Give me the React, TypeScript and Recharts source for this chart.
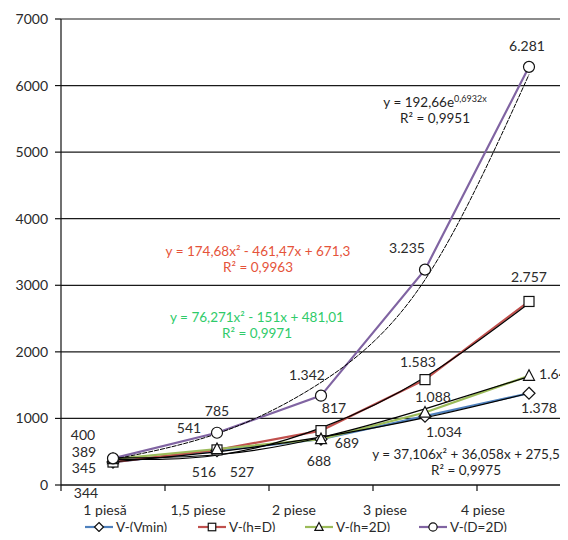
import React from 'react'
import { LineChart, Line, XAxis, YAxis, CartesianGrid, LabelList } from 'recharts'

const categories = ['1 piesă', '1,5 piese', '2 piese', '3 piese', '4 piese']
const vMin = [344, 516, 688, 1034, 1378]
const vHD = [345, 527, 817, 1583, 2757]
const vH2D = [389, 541, 689, 1088, 1640]
const vD2D = [400, 785, 1342, 3235, 6281]

// trendline values at each category
const trendMin = [349, 498, 718, 1011, 1379]
const trendHD = [385, 447, 859, 1620, 2731]
const trendH2D = [406, 454, 714, 1143, 1629]
const trendD2D = [385, 771, 1541, 3083, 6166]

const yTicks = [0, 1000, 2000, 3000, 4000, 5000, 6000, 7000]

const data = categories.map((name, i) => ({
  x: i + 1,
  name,
  vMin: vMin[i],
  vHD: vHD[i],
  vH2D: vH2D[i],
  vD2D: vD2D[i],
  tMin: trendMin[i],
  tHD: trendHD[i],
  tH2D: trendH2D[i],
  tD2D: trendD2D[i],
}))

const FONT = 'Lato, "Open Sans", sans-serif'
const TXT = '#2a2a2a'

const COLORS = {
  vMin: '#4F81BD',
  vHD: '#C0504D',
  vH2D: '#9BBB59',
  vD2D: '#8064A2',
}

// label offsets (dx, dy) from each marker
const OFFSETS: Record<string, number[][]> = {
  vMin: [[-27, 31], [-13, 21], [-2, 22], [19, 16], [10, 15]],
  vHD: [[-29, 6], [25, 22], [13, -23], [-7, -18], [0, -24]],
  vH2D: [[-29, -7], [-28, -21], [26, 4], [8, -15], [28, -2]],
  vD2D: [[-30, -23], [0, -22], [-14, -21], [-18, -22], [-2, -21]],
}

const TICK_SHIFT = [-8, -19, -27, -40, -46]

const fmt = (v: number) =>
  v >= 1000 ? `${Math.floor(v / 1000)}.${String(v % 1000).padStart(3, '0')}` : `${v}`

function makeLabel(key: string) {
  return (p: any) => {
    const off = OFFSETS[key][p.index] || [0, -12]
    return (
      <text
        x={p.x + off[0]}
        y={p.y + off[1]}
        dy="0.35em"
        textAnchor="middle"
        fontSize={14}
        fontFamily={FONT}
        fill={TXT}
      >
        {fmt(p.value)}
      </text>
    )
  }
}

function Marker({ kind, cx, cy, s = 1 }: { kind: string; cx: number; cy: number; s?: number }) {
  const common = { fill: '#fff', stroke: '#111', strokeWidth: 1.2 }
  if (kind === 'diamond')
    return <polygon points={`${cx},${cy - 6 * s} ${cx + 6 * s},${cy} ${cx},${cy + 6 * s} ${cx - 6 * s},${cy}`} {...common} />
  if (kind === 'square') return <rect x={cx - 5 * s} y={cy - 5 * s} width={10 * s} height={10 * s} {...common} />
  if (kind === 'triangle')
    return <polygon points={`${cx},${cy - 6 * s} ${cx + 5.5 * s},${cy + 4.5 * s} ${cx - 5.5 * s},${cy + 4.5 * s}`} {...common} />
  return <circle cx={cx} cy={cy} r={5.5 * s} {...common} />
}

const dot = (kind: string) => (p: any) =>
  p.cx == null ? <g key={p.index} /> : <Marker key={p.index} kind={kind} cx={p.cx} cy={p.cy} />

function XTick(p: any) {
  const v = p.payload.value
  if (v % 1 !== 0) {
    return <line x1={p.x} x2={p.x} y1={p.y} y2={p.y + 6} stroke="#111" strokeWidth={1.2} />
  }
  const i = v - 1
  return (
    <text x={p.x + TICK_SHIFT[i]} y={p.y + 30} textAnchor="middle" fontSize={14} fontFamily={FONT} fill={TXT}>
      {categories[i]}
    </text>
  )
}

const LEGEND = [
  { key: 'vMin', name: 'V-(Vmin)', kind: 'diamond', left: 85 },
  { key: 'vHD', name: 'V-(h=D)', kind: 'square', left: 198 },
  { key: 'vH2D', name: 'V-(h=2D)', kind: 'triangle', left: 305 },
  { key: 'vD2D', name: 'V-(D=2D)', kind: 'circle', left: 419 },
] as const

function Eq({ cx, cy, color, children }: { cx: number; cy: number; color: string; children: React.ReactNode }) {
  return (
    <div
      style={{
        position: 'absolute',
        left: cx - 120,
        top: cy - 8,
        width: 240,
        textAlign: 'center',
        fontSize: 13.5,
        lineHeight: '16px',
        color,
        fontFamily: FONT,
        whiteSpace: 'nowrap',
      }}
    >
      {children}
    </div>
  )
}

export default function App() {
  return (
    <div style={{ position: 'relative', width: 568, height: 540, margin: -8, overflow: 'hidden', background: '#fff' }}>
      <LineChart width={600} height={540} data={data} margin={{ top: 19, right: 19, bottom: 0, left: 0 }}>
        <CartesianGrid vertical={false} stroke="#1a1a1a" strokeWidth={1.2} />
        <XAxis
          dataKey="x"
          type="number"
          domain={[0.5, 5.5]}
          ticks={[0.5, 1, 1.5, 2, 2.5, 3, 3.5, 4, 4.5, 5, 5.5]}
          interval={0}
          height={55}
          tickSize={0}
          tickMargin={0}
          tickLine={false}
          axisLine={{ stroke: '#111', strokeWidth: 1.2 }}
          tick={<XTick />}
        />
        <YAxis
          domain={[0, 7000]}
          ticks={yTicks}
          width={61}
          tickSize={6}
          tickMargin={7}
          tickLine={{ stroke: '#111', strokeWidth: 1.2 }}
          axisLine={{ stroke: '#111', strokeWidth: 1.2 }}
          tick={{ fontSize: 14, fontFamily: FONT, fill: TXT }}
        />
        {LEGEND.map(s => (
          <Line
            key={s.key}
            dataKey={s.key}
            stroke={COLORS[s.key]}
            strokeWidth={2.2}
            dot={dot(s.kind)}
            isAnimationActive={false}
          >
            <LabelList dataKey={s.key} content={makeLabel(s.key)} />
          </Line>
        ))}
        <Line dataKey="tMin" type="natural" stroke="#000" strokeWidth={1.2} dot={false} isAnimationActive={false} />
        <Line dataKey="tHD" type="natural" stroke="#000" strokeWidth={1.2} dot={false} isAnimationActive={false} />
        <Line dataKey="tH2D" type="natural" stroke="#000" strokeWidth={1.2} dot={false} isAnimationActive={false} />
        <Line dataKey="tD2D" type="natural" stroke="#000" strokeWidth={1} strokeDasharray="5 1" dot={false} isAnimationActive={false} />
      </LineChart>

      <Eq cx={435} cy={99} color="#1f1f1f">
        y = 192,66e<sup style={{ fontSize: 9, verticalAlign: 5 }}>0,6932x</sup>
        <br />R² = 0,9951
      </Eq>
      <Eq cx={258} cy={251} color="#E5533A">
        y = 174,68x² - 461,47x + 671,3
        <br />R² = 0,9963
      </Eq>
      <Eq cx={257} cy={317} color="#2FCB6A">
        y = 76,271x² - 151x + 481,01
        <br />R² = 0,9971
      </Eq>
      <Eq cx={466} cy={454} color="#1f1f1f">
        y = 37,106x² + 36,058x + 275,5
        <br />R² = 0,9975
      </Eq>

      {LEGEND.map(s => (
        <div
          key={s.key}
          style={{
            position: 'absolute',
            left: s.left,
            top: 518,
            height: 18,
            display: 'flex',
            alignItems: 'center',
            fontSize: 13.5,
            lineHeight: '18px',
            fontFamily: FONT,
            color: TXT,
            whiteSpace: 'nowrap',
          }}
        >
          <svg width={28} height={12} style={{ marginRight: 3 }}>
            <line x1={0} x2={28} y1={6} y2={6} stroke={COLORS[s.key]} strokeWidth={2.2} />
            <Marker kind={s.kind} cx={14} cy={6} s={0.75} />
          </svg>
          {s.name}
        </div>
      ))}
    </div>
  )
}
